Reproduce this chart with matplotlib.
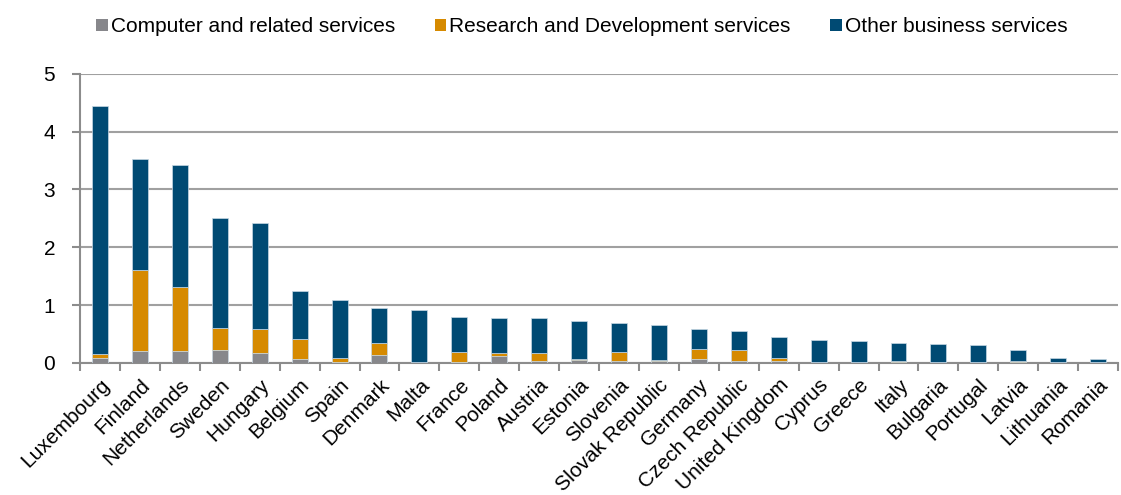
import matplotlib
matplotlib.use("Agg")
import matplotlib.pyplot as plt
import numpy as np
from matplotlib.patches import Patch

countries = ["Luxembourg", "Finland", "Netherlands", "Sweden", "Hungary", "Belgium",
             "Spain", "Denmark", "Malta", "France", "Poland", "Austria", "Estonia",
             "Slovenia", "Slovak Republic", "Germany", "Czech Republic", "United Kingdom",
             "Cyprus", "Greece", "Italy", "Bulgaria", "Portugal", "Latvia", "Lithuania", "Romania"]
computer = [0.08, 0.21, 0.21, 0.23, 0.17, 0.07, 0.01, 0.13, 0.02, 0.02, 0.12, 0.04, 0.05,
            0.04, 0.04, 0.07, 0.04, 0.03, 0.01, 0.01, 0.01, 0.01, 0.01, 0.01, 0.01, 0.01]
research = [0.07, 1.40, 1.10, 0.37, 0.42, 0.34, 0.08, 0.22, 0.00, 0.16, 0.05, 0.13, 0.01,
            0.14, 0.01, 0.17, 0.19, 0.06, 0.00, 0.00, 0.03, 0.00, 0.01, 0.02, 0.00, 0.00]
totals = [4.45, 3.53, 3.43, 2.51, 2.41, 1.25, 1.09, 0.94, 0.91, 0.79, 0.78, 0.77, 0.73,
          0.69, 0.65, 0.59, 0.55, 0.45, 0.40, 0.38, 0.35, 0.32, 0.30, 0.22, 0.09, 0.07]
other = [t - c - r for t, c, r in zip(totals, computer, research)]

series_names = ["Computer and related services", "Research and Development services",
                "Other business services"]
colors = ["#87878B", "#D68A00", "#004A73"]

plt.rcParams['font.family'] = ['Liberation Sans', 'DejaVu Sans']

fig = plt.figure(figsize=(11.21, 4.95), dpi=100)
ax = fig.add_axes([0.0714, 0.267, 0.926, 0.584])

x = np.arange(len(countries))
w = 0.4
edge = "#C8D8E4"
ax.bar(x, computer, w, color=colors[0], edgecolor=edge, linewidth=0.5, zorder=3)
ax.bar(x, research, w, bottom=computer, color=colors[1], edgecolor=edge, linewidth=0.5, zorder=3)
bottom2 = [c + r for c, r in zip(computer, research)]
ax.bar(x, other, w, bottom=bottom2, color=colors[2], edgecolor=edge, linewidth=0.5, zorder=3)

ax.set_xlim(-0.5, len(countries) - 0.5)
ax.set_ylim(0, 5)
ax.set_yticks(range(0, 6))
ax.tick_params(axis='y', labelsize=15, length=6, width=1.5, color="#8C8C8C", pad=12)
ax.yaxis.grid(True, color="#A0A0A0", linewidth=1.5, zorder=0)
ax.set_axisbelow(True)

ax.set_xticks(x)
ax.set_xticklabels(countries, rotation=45, ha='right', rotation_mode='anchor', fontsize=15)
ax.tick_params(axis='x', which='major', length=0, pad=9)
ax.set_xticks(np.arange(-0.5, len(countries), 1), minor=True)
ax.tick_params(axis='x', which='minor', length=6, width=1.5, color="#8C8C8C", direction='out')

for s in ["top", "right"]:
    ax.spines[s].set_visible(False)
for s in ["left", "bottom"]:
    ax.spines[s].set_color("#8C8C8C")
    ax.spines[s].set_linewidth(1.5)

handles = [Patch(facecolor=c, edgecolor='none') for c in colors]
fig.legend(handles, series_names, loc='upper center', bbox_to_anchor=(0.519, 1.003), ncol=3,
           frameon=False, fontsize=15, handlelength=0.55, handleheight=0.55,
           handletextpad=0.15, columnspacing=1.9)

fig.savefig("out.png", dpi=100)
